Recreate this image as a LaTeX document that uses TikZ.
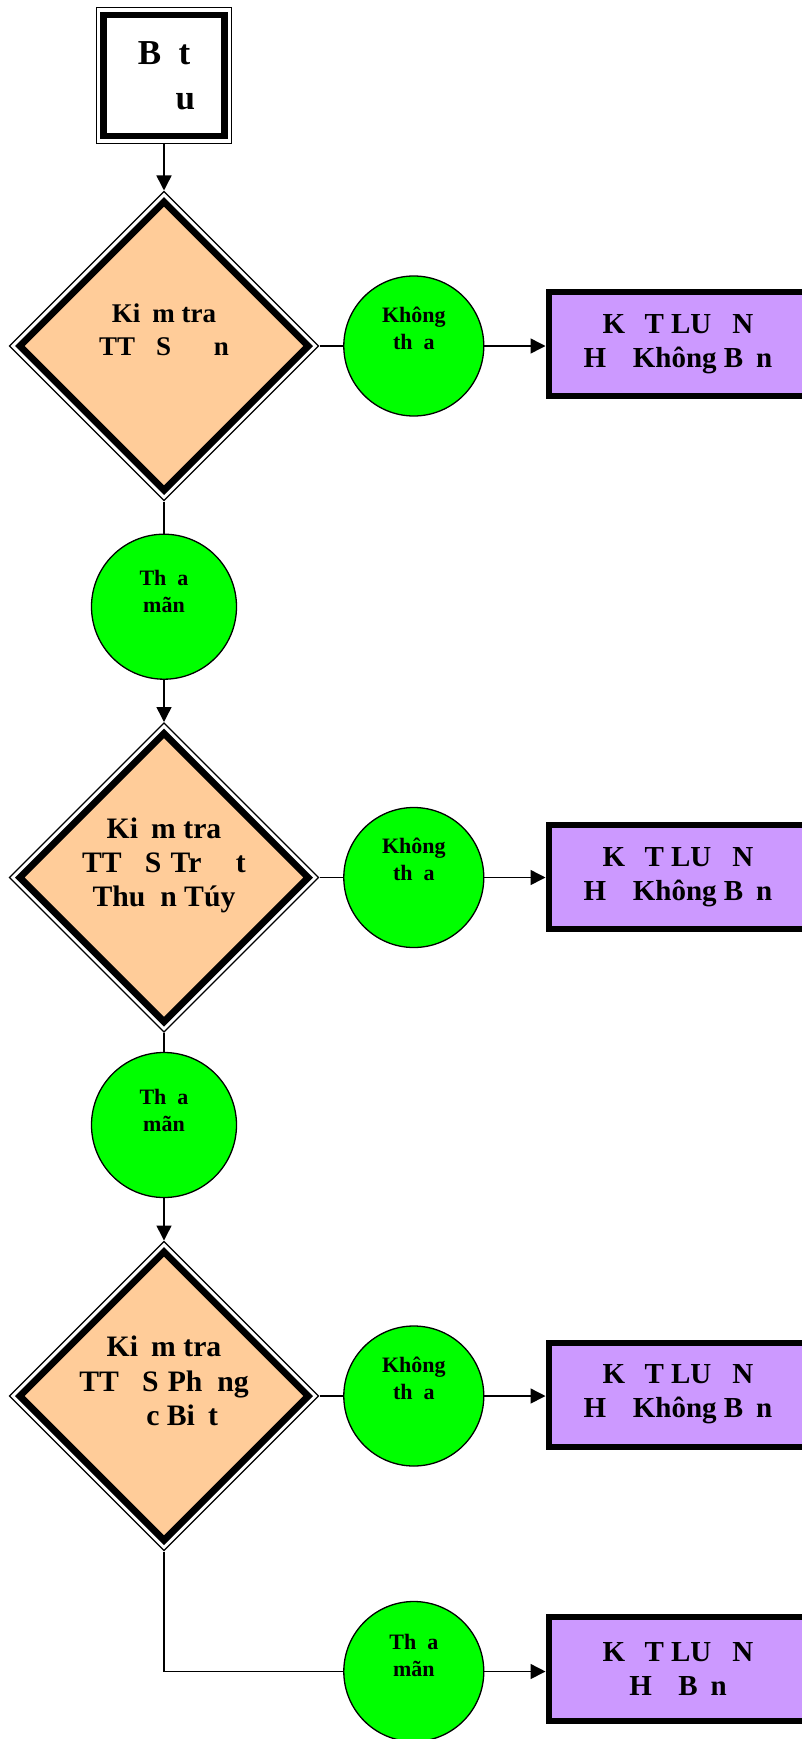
\documentclass[tikz,border=0pt]{standalone}
\usepackage{fontspec}
\setmainfont{Liberation Serif}
\usetikzlibrary{shapes.geometric,arrows.meta}
\definecolor{decfill}{HTML}{FFCC99}
\definecolor{resfill}{HTML}{CC99FF}
\definecolor{tagfill}{HTML}{00FF00}

\begin{document}
\begin{tikzpicture}[x=1pt,y=-1pt,
  frame/.style={line width=6.8pt,outer sep=8pt,
    preaction={draw,line width=15.7pt},preaction={draw=white,line width=13.1pt}},
  startbox/.style={rectangle,draw,fill=white,frame,minimum size=121pt,inner sep=0pt,
    font=\fontsize{35}{45}\selectfont\bfseries,align=center},
  decision/.style={diamond,aspect=1,draw,fill=decfill,frame,minimum size=295pt,inner sep=0pt},
  dtext/.style={font=\fontsize{29.7}{34.2}\selectfont\bfseries,align=center,inner sep=0pt},
  tag/.style={circle,draw,line width=1.3pt,fill=tagfill,minimum size=140pt,inner sep=0pt},
  ctext/.style={font=\fontsize{22}{27}\selectfont\bfseries,align=center,inner sep=0pt},
  result/.style={rectangle,draw,line width=6pt,fill=resfill,minimum width=259pt,minimum height=104pt,
    inner sep=0pt,font=\fontsize{29}{34}\selectfont\bfseries,align=center},
  link/.style={line width=1.5pt},
  arr/.style={line width=1.5pt,-{Triangle[length=15pt,width=15pt]}}]

\useasboundingbox (0,0) rectangle (801,1739);

\node[startbox] (start) at (164,75.5) {B\phantom{a}t\\\phantom{da}\,u};

\node[decision,label={[dtext,font=\fontsize{27}{33.4}\selectfont\bfseries,yshift=16pt]center:{Ki\phantom{e}m tra\\TT\hspace*{.78em}S\hspace*{1.58em}n}}] (chk1) at (164,346) {};
\node[tag,label={[ctext,yshift=18pt]center:{Không\\th\phantom{o}a}}] (no1) at (413.8,346) {};
\node[result] (res1) at (678,344) {K\phantom{E}T LU\phantom{A}N\\H\phantom{E} Không B\phantom{e}n};
\node[tag,minimum size=145pt,label={[ctext,yshift=15pt]center:{Th\phantom{o}a\\mãn}}] (ok1) at (164,606.7) {};

\node[decision,label={[dtext,yshift=12pt]center:{Ki\phantom{e}m tra\\TT\hspace*{.78em}S\hspace*{.31em}Tr\hspace*{1.16em}t\\Thu\phantom{a}n Túy}}] (chk2) at (164,877.5) {};
\node[tag,label={[ctext,yshift=18pt]center:{Không\\th\phantom{o}a}}] (no2) at (413.8,877.5) {};
\node[result] (res2) at (678,877) {K\phantom{E}T LU\phantom{A}N\\H\phantom{E} Không B\phantom{e}n};
\node[tag,minimum size=145pt,label={[ctext,yshift=15pt]center:{Th\phantom{o}a\\mãn}}] (ok2) at (164,1125) {};

\node[decision,label={[dtext,yshift=15pt]center:{Ki\phantom{e}m tra\\TT\hspace*{.78em}S\hspace*{.31em}Ph\phantom{a}ng\\\phantom{Da}c Bi\phantom{e}t}}] (chk3) at (164,1396) {};
\node[tag,label={[ctext,yshift=18pt]center:{Không\\th\phantom{o}a}}] (no3) at (413.8,1396) {};
\node[result] (res3) at (678,1394.5) {K\phantom{E}T LU\phantom{A}N\\H\phantom{E} Không B\phantom{e}n};

\node[tag,label={[ctext,yshift=16pt]center:{Th\phantom{o}a\\mãn}}] (ok3) at (413.8,1671.5) {};
\node[result] (res4) at (678,1669) {K\phantom{E}T LU\phantom{A}N\\H\phantom{E} B\phantom{e}n};

\draw[arr] (start.south) -- (chk1.north);
\draw[link] (chk1.south) -- (ok1.north);
\draw[arr] (ok1.south) -- (chk2.north);
\draw[link] (chk2.south) -- (ok2.north);
\draw[arr] (ok2.south) -- (chk3.north);

\draw[link] (chk1.east) -- (no1.west);
\draw[arr] (no1.east) -- (no1.east -| res1.west);
\draw[link] (chk2.east) -- (no2.west);
\draw[arr] (no2.east) -- (no2.east -| res2.west);
\draw[link] (chk3.east) -- (no3.west);
\draw[arr] (no3.east) -- (no3.east -| res3.west);

\draw[link] (chk3.south) |- (ok3.west);
\draw[arr] (ok3.east) -- (ok3.east -| res4.west);

\end{tikzpicture}
\end{document}
